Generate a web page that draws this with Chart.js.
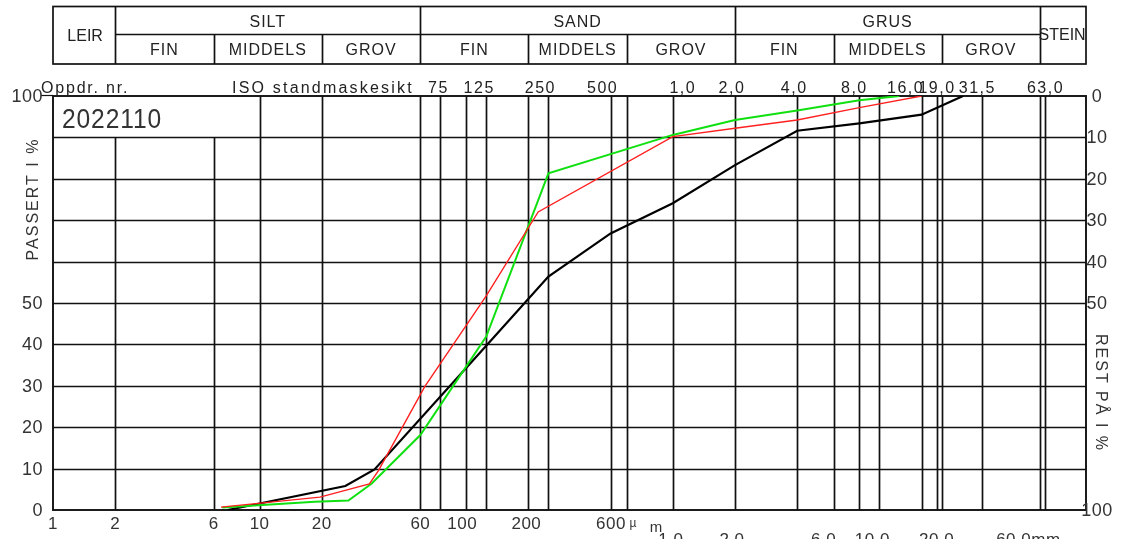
<!DOCTYPE html>
<html><head><meta charset="utf-8">
<script src="https://cdn.jsdelivr.net/npm/chart.js@4/dist/chart.umd.min.js"></script>
<style>html,body{margin:0;padding:0;background:#fff;overflow:hidden}#wrap{width:1136px;height:539px;position:relative}</style>
</head><body><div id="wrap"><canvas id="c" width="1136" height="539"></canvas></div>
<script>
// ---- data (grain diameter in µm, percent passing) ----
const projectNumber = "2022110";
const blackX = [7, 26, 36, 125, 250, 500, 1000, 2000, 4000, 8000, 16000, 25400];
const blackY = [0, 5.8, 9.8, 39.7, 56.4, 66.8, 74.1, 83.3, 91.6, 93.4, 95.5, 100];
const redX   = [6.5, 19.6, 34, 37.6, 63, 125, 223, 1000, 2000, 4000, 8000, 16000];
const redY   = [0.7, 3.1, 6.3, 9.5, 29.8, 51.7, 72, 90.2, 92.2, 94.2, 97.2, 100];
const greenX = [6.6, 18.5, 26.9, 34.9, 60, 125, 250, 1000, 2000, 4000, 8000, 12500];
const greenY = [0.6, 2.0, 2.3, 6.4, 18.1, 41.9, 81.3, 90.6, 94.2, 96.5, 99.0, 100];

const gridDiameters = [2, 6, 10, 20, 60, 75, 100, 125, 200, 250, 500, 600, 1000, 2000, 4000, 6000, 8000, 10000, 16000, 19000, 20000, 31500, 60000, 63000];
const gridPercents = [10, 20, 30, 40, 50, 60, 70, 80, 90];

const leftTickValues = [100, 50, 40, 30, 20, 10, 0];
const rightTickValues = [100, 90, 80, 70, 60, 50, 0];   // percent passing where "rest" labels sit
const rightTickLabels = ["0", "10", "20", "30", "40", "50", "100"];

const sieveValues = [75, 125, 250, 500, 1000, 2000, 4000, 8000, 16000, 19000, 31500, 63000];
const sieveLabels = ["75", "125", "250", "500", "1,0", "2,0", "4,0", "8,0", "16,0", "19,0", "31,5", "63,0"];

const bottomValues1 = [1, 2, 6, 10, 20, 60, 100, 200, 600];
const bottomLabels1 = ["1", "2", "6", "10", "20", "60", "100", "200", "600"];
const bottomValues2 = [1000, 2000, 6000, 10000, 20000, 60000];
const bottomLabels2 = ["1,0", "2,0", "6,0", "10,0", "20,0", "60,0mm"];

const mainFractions = ["LEIR", "SILT", "SAND", "GRUS", "STEIN"];
const mainBounds = [1, 2, 60, 2000, 60000, 100000];
const subFractions = ["FIN", "MIDDELS", "GROV"];
const subBounds = [[2, 6, 20, 60], [60, 200, 600, 2000], [2000, 6000, 20000, 60000]];

// ---- drawing ----
const FONT = '"Liberation Sans", Arial, sans-serif';
function txt(ctx, s, x, y, size, align, base, spacing, color) {
  ctx.save();
  ctx.font = size + 'px ' + FONT;
  ctx.textAlign = align || 'center';
  ctx.textBaseline = base || 'middle';
  ctx.fillStyle = color || '#222';
  try { ctx.letterSpacing = (spacing || 0) + 'px'; } catch (e) {}
  ctx.fillText(s, x, y);
  ctx.restore();
}

const sieveDx = [-2, -7, -8, -8, 10, -3, -3, -5, -16, 0, -5, 1];
const bottomDx1 = [0, 0, 0, 0, 0, 0, -4, -2, -16];
const bottomDx2 = [-2, -3, -10, -7, -5, -2];

const gridPlugin = {
  id: 'gridPlugin',
  beforeDatasetsDraw(chart) {
    const ctx = chart.ctx, xs = chart.scales.x, ys = chart.scales.y, a = chart.chartArea;
    ctx.save();
    ctx.strokeStyle = '#111';
    ctx.lineWidth = 1.7;
    gridPercents.forEach(p => {
      const y = Math.round(ys.getPixelForValue(p)) + 0.5;
      ctx.beginPath(); ctx.moveTo(a.left, y); ctx.lineTo(a.right, y); ctx.stroke();
    });
    const y90 = ys.getPixelForValue(90);
    gridDiameters.forEach(d => {
      const x = Math.round(xs.getPixelForValue(d)) + 0.5;
      const top = d < 10 ? y90 : a.top;
      ctx.beginPath(); ctx.moveTo(x, top); ctx.lineTo(x, a.bottom); ctx.stroke();
    });
    ctx.lineWidth = 1.9;
    ctx.strokeRect(a.left, a.top, a.right - a.left, a.bottom - a.top);
    ctx.restore();
  },
  afterDraw(chart) {
    const ctx = chart.ctx, xs = chart.scales.x, ys = chart.scales.y, a = chart.chartArea;
    const X = v => xs.getPixelForValue(v);
    // header table
    const tTop = 6.5, tMid = 34.5, tBot = 64;
    ctx.save();
    ctx.strokeStyle = '#111'; ctx.lineWidth = 1.7;
    ctx.strokeRect(X(1), tTop, X(100000) - X(1), tBot - tTop);
    ctx.beginPath(); ctx.moveTo(X(2), tMid); ctx.lineTo(X(60000), tMid); ctx.stroke();
    mainBounds.slice(1, -1).forEach(b => {
      ctx.beginPath(); ctx.moveTo(Math.round(X(b)) + 0.5, tTop); ctx.lineTo(Math.round(X(b)) + 0.5, tBot); ctx.stroke();
    });
    subBounds.forEach(sb => sb.slice(1, -1).forEach(b => {
      ctx.beginPath(); ctx.moveTo(Math.round(X(b)) + 0.5, tMid); ctx.lineTo(Math.round(X(b)) + 0.5, tBot); ctx.stroke();
    }));
    ctx.restore();
    mainFractions.forEach((f, i) => {
      const cx = (X(mainBounds[i]) + X(mainBounds[i + 1])) / 2;
      if (i === 0) txt(ctx, f, cx + 1, 41, 16, 'center', 'alphabetic', 0);
      else if (i === 4) txt(ctx, f, cx - 1, 40, 16, 'center', 'alphabetic', 0);
      else txt(ctx, f, cx, 27, 16, 'center', 'alphabetic', 1);
    });
    subBounds.forEach(sb => {
      for (let j = 0; j < 3; j++) {
        const cx = (X(sb[j]) + X(sb[j + 1])) / 2;
        txt(ctx, subFractions[j], cx, 55, 16, 'center', 'alphabetic', 1);
      }
    });
    // labels above plot
    txt(ctx, 'Oppdr. nr.', 41, 93, 16, 'left', 'alphabetic', 1.8);
    ctx.save(); ctx.strokeStyle = '#111'; ctx.lineWidth = 1.2;
    ctx.beginPath(); ctx.moveTo(41, 95.5); ctx.lineTo(a.left, 95.5); ctx.stroke(); ctx.restore();
    txt(ctx, 'ISO standmaskesikt', 232, 93, 16, 'left', 'alphabetic', 2.2);
    sieveValues.forEach((v, i) => txt(ctx, sieveLabels[i], X(v) + sieveDx[i], 93, 16, 'center', 'alphabetic', 1.5));
    // project number box text
    ctx.save();
    ctx.font = '28px ' + FONT;
    try { ctx.letterSpacing = '1px'; } catch (e) {}
    const w = ctx.measureText(projectNumber).width;
    ctx.translate(62, 128);
    ctx.scale(100 / w, 1);
    ctx.fillStyle = '#333';
    ctx.textBaseline = 'alphabetic';
    ctx.fillText(projectNumber, 0, 0);
    ctx.restore();
    // left ticks
    leftTickValues.forEach(v => txt(ctx, String(v), 43, ys.getPixelForValue(v) + 1, 18, 'right', 'middle', 0.5, '#333'));
    // right ticks
    rightTickValues.forEach((v, i) => txt(ctx, rightTickLabels[i], 1097, ys.getPixelForValue(v) + 1, 18, 'center', 'middle', 0.5, '#333'));
    // bottom ticks
    bottomValues1.forEach((v, i) => txt(ctx, bottomLabels1[i], X(v) + bottomDx1[i], 524, 17, 'center', 'middle', 0.5, '#333'));
    txt(ctx, 'µ', X(600) + 6, 524, 12, 'center', 'middle', 0, '#333');
    txt(ctx, 'm', X(600) + 29, 528, 15, 'center', 'middle', 0, '#333');
    bottomValues2.forEach((v, i) => {
      if (i === bottomValues2.length - 1) txt(ctx, bottomLabels2[i], X(v) - 44, 540, 17, 'left', 'middle', 0.5, '#333');
      else txt(ctx, bottomLabels2[i], X(v) + bottomDx2[i], 540, 17, 'center', 'middle', 0.5, '#333');
    });
    // axis titles
    ctx.save(); ctx.translate(34, 199); ctx.rotate(-Math.PI / 2);
    txt(ctx, 'PASSERT I %', 0, 0, 16, 'center', 'middle', 2, '#333'); ctx.restore();
    ctx.save(); ctx.translate(1100, 393); ctx.rotate(Math.PI / 2);
    txt(ctx, 'REST PÅ I %', 0, 0, 16, 'center', 'middle', 2, '#333'); ctx.restore();
  }
};

const mk = (xsArr, ysArr) => xsArr.map((x, i) => ({ x: x, y: ysArr[i] }));

new Chart(document.getElementById('c'), {
  type: 'line',
  data: {
    datasets: [
      { label: 'red', data: mk(redX, redY), borderColor: '#ff2020', borderWidth: 1.4, pointRadius: 0, tension: 0, fill: false, order: 1 },
      { label: 'green', data: mk(greenX, greenY), borderColor: '#10e010', borderWidth: 2, pointRadius: 0, tension: 0, fill: false, order: 2 },
      { label: 'black', data: mk(blackX, blackY), borderColor: '#000', borderWidth: 2.2, pointRadius: 0, tension: 0, fill: false, order: 3 }
    ]
  },
  options: {
    responsive: false,
    animation: false,
    events: [],
    layout: { padding: { left: 53, right: 50, top: 96, bottom: 29 } },
    plugins: { legend: { display: false }, tooltip: { enabled: false } },
    scales: {
      x: { type: 'logarithmic', min: 1, max: 100000, display: false },
      y: { type: 'linear', min: 0, max: 100, display: false }
    }
  },
  plugins: [gridPlugin]
});
</script>
</body></html>
